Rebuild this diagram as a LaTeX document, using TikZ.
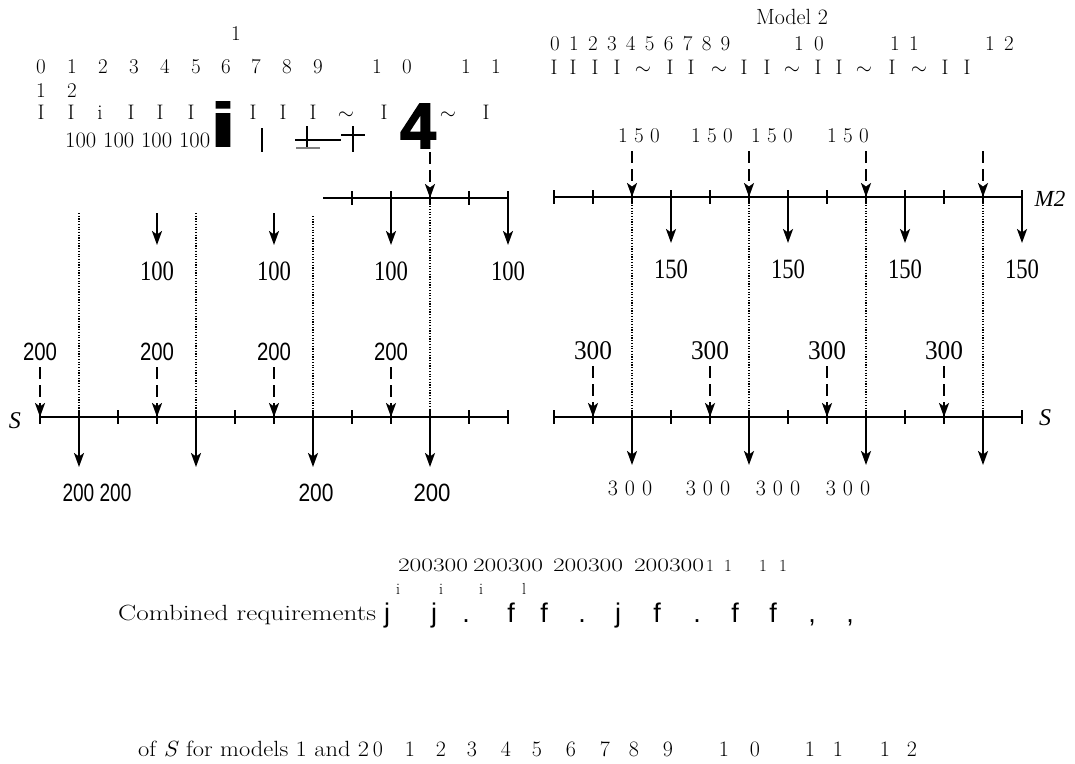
\documentclass[tikz,border=0pt]{standalone}
\usepackage{fontspec}
\usepackage{graphicx}
\usetikzlibrary{arrows.meta}
\newfontfamily\sansf{Liberation Sans}
\newfontfamily\heavyf{Liberation Sans}[FakeBold=2.5]
\newfontfamily\seriff{Liberation Serif}
\newcommand\wfit[2]{\resizebox{#1}{\height}{#2}}
\newcommand\fsz[1]{\fontsize{#1}{#1}\selectfont}
\begin{document}
\begin{tikzpicture}[x=1pt,y=-1pt,
  tb/.style={inner sep=0pt,anchor=base},
  topf/.style={tb,font=\fsz{21}},
  axisln/.style={line width=2.3pt},
  tk/.style={line width=1.4pt},
  darr/.style={line width=2.2pt,-{Stealth[length=14pt,width=10pt,inset=3.5pt]}},
  dsharr/.style={darr,dash pattern=on 12pt off 6pt},
  dotl/.style={line width=1.2pt,dash pattern=on 1.2pt off 1.5pt},
  markln/.style={line width=1.2pt}
]
\useasboundingbox (0,0) rectangle (1075,763);

% ---------------- top-left text ----------------
\node[topf] (tl0) at (236,40) {1};
\foreach \x/\c [count=\n] in {41/0,72/1,103/2,134/3,165/4,196/5,226/6,256/7,287/8,318/9,377/1,407/0,466/1,496/1}
  \node[topf] (tla\n) at (\x,73) {\c};
\node[topf] (tlb1) at (41,97) {1};
\node[topf] (tlb2) at (72,97) {2};
\foreach \x/\c [count=\n] in {41/I,71/I,100/i,131/I,160/I,191/I,253/I,283/I,313/I,346/{$\sim$},384/I,448/{$\sim$},486/I}
  \node[topf] (tlc\n) at (\x,119) {\c};
\node[tb] (bigi) at (223,146) {\scalebox{1.5}[1]{\heavyf\bfseries\fsz{61}i}};
\node[tb] (big4) at (418,148) {\heavyf\bfseries\fsz{64}4};
\node[tb,anchor=base west] (h100s) at (65,147) {\wfit{145pt}{\fsz{22}100 100 100 100}};
\draw[markln] (262,128) -- (262,152);
\draw[line width=2pt] (295,140) -- (341,140);
\draw[markln] (307,126) -- (307,148);
\draw[markln,gray] (296,148) -- (320,148);
\draw[markln] (353,126) -- (353,152);
\draw[markln] (341,135) -- (365,135);

% ---------------- M1 line ----------------
\foreach \k in {8,...,12} \coordinate (m1k\k) at ({40+39*\k},198);
\coordinate (m1s) at (323,198);
\draw[axisln] (m1s) -- (m1k12);
\foreach \k in {8,...,12} \draw[tk] ([yshift=7pt]m1k\k) -- ([yshift=-7pt]m1k\k);
\coordinate (m1in) at (430,152);
\draw[dsharr] (m1in) -- (m1k10);
\coordinate (m1u3) at (157,213); \coordinate (m1u6) at (274,213);
\coordinate (m1d3) at (157,245); \coordinate (m1d6) at (274,245);
\coordinate (m1d9) at (391,245); \coordinate (m1d12) at (508,245);
\draw[darr] (m1u3) -- (m1d3);
\draw[darr] (m1u6) -- (m1d6);
\draw[darr] (m1k9) -- (m1d9);
\draw[darr] (m1k12) -- (m1d12);
\foreach \x/\n in {157/a,274/b,391/c,508/d}
  \node[tb] (h100\n) at (\x,280) {\wfit{34pt}{\seriff\fsz{28}100}};

% ---------------- left S line ----------------
\foreach \k in {0,...,12} \coordinate (lsk\k) at ({40+39*\k},417);
\draw[axisln] (lsk0) -- (lsk12);
\foreach \k in {0,...,12} \draw[tk] ([yshift=7pt]lsk\k) -- ([yshift=-7pt]lsk\k);
\node[tb,font=\seriff\itshape\fsz{24}] (lSlab) at (15,428) {S};
\coordinate (ldt1) at (79,213); \coordinate (ldt4) at (196,213); \coordinate (ldt7) at (313,216);
\draw[dotl] (ldt1) -- (lsk1);
\draw[dotl] (ldt4) -- (lsk4);
\draw[dotl] (ldt7) -- (lsk7);
\draw[dotl] (m1k10) -- (lsk10);
\foreach \k in {0,3,6,9} {
  \node[tb] (l200u\k) at ({40+39*\k},360) {\wfit{34pt}{\sansf\fsz{25}200}};
  \coordinate (l200s\k) at ({40+39*\k},367);
  \draw[dsharr] (l200s\k) -- (lsk\k);
}
\foreach \k in {1,4,7,10} {
  \coordinate (lde\k) at ({40+39*\k},467);
  \draw[darr] (lsk\k) -- (lde\k);
}
\node[tb] (l200b1) at (97,501) {\wfit{69pt}{\sansf\fsz{25}200 200}};
\node[tb] (l200b2) at (316,501) {\wfit{35pt}{\sansf\fsz{25}200}};
\node[tb] (l200b3) at (432,501) {\wfit{37pt}{\sansf\fsz{25}200}};

% ---------------- top-right text ----------------
\node[tb,font=\fsz{22}] (mod2) at (792,24) {Model 2};
\foreach \k in {0,...,9} \node[topf] (rn\k) at ({555+18.95*\k},50) {\k};
\foreach \x/\c [count=\n] in {799/1,819/0,895/1,914/1,990/1,1009/2}
  \node[topf] (rnn\n) at (\x,50) {\c};
\foreach \x/\c [count=\n] in {554/I,573/I,595/I,617/I,643/{$\sim$},670/I,691/I,719/{$\sim$},744/I,767/I,792/{$\sim$},818/I,839/I,864/{$\sim$},892/I,919/{$\sim$},945/I,967/I}
  \node[topf] (ri\n) at (\x,74) {\c};
\foreach \x [count=\n] in {639,712,772,848}
  \node[topf] (r150t\n) at (\x,142) {1 5 0};

% ---------------- M2 line ----------------
\foreach \k in {0,...,12} \coordinate (m2k\k) at ({554+39*\k},197);
\draw[axisln] (m2k0) -- (m2k12);
\foreach \k in {0,...,12} \draw[tk] ([yshift=7pt]m2k\k) -- ([yshift=-7pt]m2k\k);
\foreach \k in {2,5,8,11} {
  \coordinate (m2in\k) at ({554+39*\k},151);
  \draw[dsharr] (m2in\k) -- (m2k\k);
}
\foreach \k in {3,6,9,12} {
  \coordinate (m2d\k) at ({554+39*\k},243);
  \draw[darr] (m2k\k) -- (m2d\k);
  \node[tb] (r150\k) at ({554+39*\k},278) {\wfit{34pt}{\seriff\fsz{28}150}};
}
\node[tb,font=\seriff\itshape\fsz{23}] (m2lab) at (1050,206) {M2};

% ---------------- right S line ----------------
\foreach \k in {0,...,12} \coordinate (rsk\k) at ({554+39*\k},417);
\draw[axisln] (rsk0) -- (rsk12);
\foreach \k in {0,...,12} \draw[tk] ([yshift=7pt]rsk\k) -- ([yshift=-7pt]rsk\k);
\foreach \k in {2,5,8,11} \draw[dotl] (m2k\k) -- (rsk\k);
\foreach \k in {1,4,7,10} {
  \node[tb] (r300u\k) at ({554+39*\k},359) {\wfit{38pt}{\seriff\fsz{27}300}};
  \coordinate (r300s\k) at ({554+39*\k},366);
  \draw[dsharr] (r300s\k) -- (rsk\k);
}
\foreach \k in {2,5,8,11} {
  \coordinate (rde\k) at ({554+39*\k},465);
  \draw[darr] (rsk\k) -- (rde\k);
}
\node[tb,font=\seriff\itshape\fsz{24}] (rSlab) at (1045,425) {S};
\foreach \x [count=\n] in {630,708,778,848}
  \node[tb,font=\fsz{22}] (r300b\n) at (\x,495) {3\hspace{7pt}0\hspace{7pt}0};

% ---------------- bottom text ----------------
\node[tb,anchor=base west] (comb) at (118,620) {\wfit{258pt}{\fsz{22}Combined requirements}};
\foreach \x [count=\n] in {433,508,588,669}
  \node[tb] (c23\n) at (\x,571) {\wfit{70pt}{\fsz{19}200300}};
\foreach \x [count=\n] in {710,728,763,783}
  \node[tb,font=\fsz{17}] (c1\n) at (\x,571) {1};
\foreach \x/\c [count=\n] in {398/i,441/i,481/i,524/l}
  \node[tb,font=\fsz{16}] (ci\n) at (\x,594) {\c};
\foreach \x/\c [count=\n] in {387/j,434/j,466/.,511/f,544/f,582/.,618/j,657/f,697/.,735/f,773/f,812/{,},850/{,}}
  \node[tb,font=\sansf\fsz{27}] (cb\n) at (\x,622) {\c};
\node[tb,anchor=base west] (ofS) at (138,756) {\wfit{231pt}{\fsz{22}\addfontfeatures{Numbers=OldStyle}of \textit{S} for models 1 and 2}};
\foreach \x/\c [count=\n] in {378/0,410/1,441/2,472/3,506/4,537/5,571/6,605/7,634/8,668/9,724/1,755/0,810/1,838/1,885/1,912/2}
  \node[tb,font=\fsz{22}\addfontfeatures{Numbers=OldStyle}] (bn\n) at (\x,756) {\c};
\end{tikzpicture}
\end{document}
